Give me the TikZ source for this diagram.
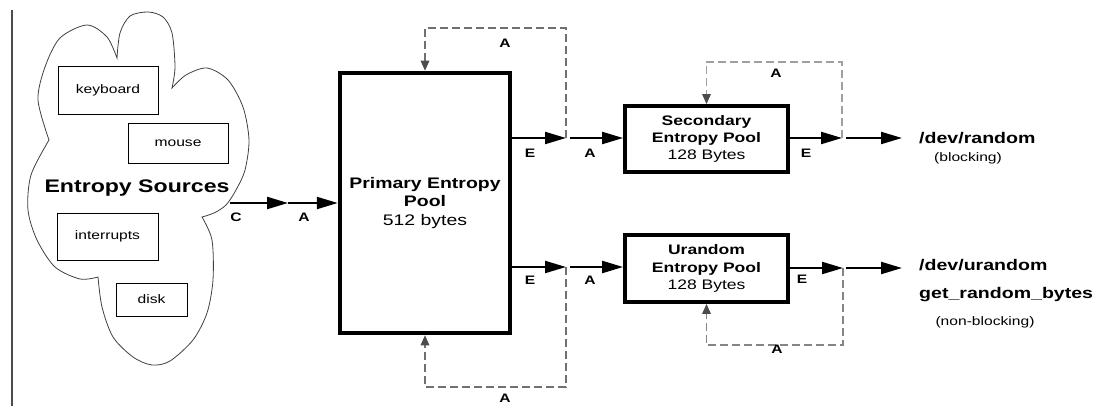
\documentclass[tikz,border=0pt]{standalone}
\usepackage{fontspec}
\setmainfont{Liberation Sans}[FakeStretch=1.27]
\usetikzlibrary{arrows.meta}
\definecolor{dgray}{HTML}{707070}
\definecolor{lgray}{HTML}{A0A0A0}
\definecolor{mgray}{HTML}{858585}
\tikzset{
  arr/.style={line width=2.2pt, -{Triangle[length=21pt,width=12pt]}},
  darr/.style={line width=1.5pt, dash pattern=on 8pt off 4pt, -{Triangle[length=10pt,width=8.5pt,color=black!70]}},
  lbl/.style={font=\bfseries\fontsize{12.3}{13}\selectfont, inner sep=0pt},
  srcbox/.style={draw, line width=0.9pt, inner sep=0pt, font=\fontsize{12.3}{14}\selectfont},
  poolbox/.style={draw, line width=4.5pt, inner sep=0pt, align=center},
  outtxt/.style={inner sep=0pt, font=\bfseries\fontsize{15.4}{18}\selectfont},
  subtxt/.style={inner sep=0pt, font=\fontsize{12.3}{14}\selectfont},
  cloudline/.style={draw=black!75, line width=0.8pt},
}
\begin{document}
\begin{tikzpicture}[x=1pt,y=-1pt]
\useasboundingbox (0,0) rectangle (1102,406);
% left rule
\draw[black!70, line width=1.5pt] (12,10) -- (12,406);
% cloud
\draw[cloudline]
  plot[smooth] coordinates {(117,58) (120,33) (130,16) (148,12) (163,17) (172,33) (175,67) (172,88)}
  -- plot[smooth] coordinates {(172,88) (186,75) (207,68) (228,80) (243,107) (249,140) (245,170) (236,190) (226,205) (214,213) (202,217)}
  -- plot[smooth] coordinates {(202,217) (212,240) (213,280) (207,313) (193,340) (170,361) (152,365) (133,357) (113,337) (102,307) (98,277)}
  -- plot[smooth] coordinates {(98,277) (80,279) (55,267) (37,240) (28,210) (31,175) (49,140)}
  -- plot[smooth] coordinates {(49,140) (38,100) (45,67) (60,38) (87,25) (107,37) (117,58)}
  -- cycle;
\node[srcbox, minimum width=100pt, minimum height=48pt] (kb) at (108,90) {keyboard};
\node[srcbox, minimum width=100pt, minimum height=40pt] (ms) at (178,143) {mouse};
\node[srcbox, minimum width=101pt, minimum height=47pt] (ir) at (107.5,236.5) {interrupts};
\node[srcbox, minimum width=71pt, minimum height=33pt] (dk) at (151.5,299.5) {disk};
\node[inner sep=0pt, font=\bfseries\fontsize{18.2}{20}\selectfont] (es) at (137,188) {Entropy Sources};
% pools
\node[poolbox, minimum width=170pt, minimum height=260pt, font=\bfseries\fontsize{15.3}{18.5}\selectfont] (prim) at (425,203)
  {Primary Entropy\\Pool\\\mdseries 512 bytes};
\node[poolbox, line width=3.8pt, minimum width=163pt, minimum height=66pt, font=\bfseries\fontsize{13.8}{17}\selectfont] (sec) at (706.5,139)
  {Secondary\\Entropy Pool\\\mdseries 128 Bytes};
\node[poolbox, line width=3.8pt, minimum width=163pt, minimum height=67pt, font=\bfseries\fontsize{13.8}{17.5}\selectfont] (ur) at (706.5,268.5)
  {Urandom\\Entropy Pool\\\mdseries 128 Bytes};
% input arrows
\coordinate (c1) at (230,203);
\coordinate (c2) at (288,203);
\draw[arr] (c1) -- (c2);
\draw[arr] (c2) -- (prim.west |- c2);
\node[lbl] (lC) at (236,217) {C};
\node[lbl] (lA0) at (304,217) {A};
% primary upper output
\coordinate (ju) at (566,138);
\coordinate (ju2) at (570,138);
\draw[arr] (prim.east |- ju) -- (ju);
\draw[arr] (ju2) -- (sec.west |- ju2);
\draw[darr, dgray] (ju) -- ++(0,-110) -| (prim.north);
\node[lbl] (lE1) at (530,153) {E};
\node[lbl] (lA1) at (590,153) {A};
\node[lbl] (lA2) at (505,43) {A};
% primary lower output
\coordinate (jl) at (566,267);
\coordinate (jl2) at (570,267);
\draw[arr] (prim.east |- jl) -- (jl);
\draw[arr] (jl2) -- (ur.west |- jl2);
\draw[darr, dgray] (jl) -- ++(0,120) -| (prim.south);
\node[lbl] (lE2) at (530,280) {E};
\node[lbl] (lA3) at (590,280) {A};
\node[lbl] (lA4) at (505,398) {A};
% secondary output
\coordinate (js) at (842,138);
\coordinate (js2) at (846,138);
\coordinate (js3) at (902,138);
\draw[arr] (sec.east |- js) -- (js);
\draw[arr] (js2) -- (js3);
\draw[darr, lgray] (js) -- ++(0,-76) -| (sec.north);
\node[lbl] (lE3) at (806,153) {E};
\node[lbl] (lA5) at (776,73) {A};
\node[outtxt, anchor=base west] (dr) at (919,144) {/dev/random};
\node[subtxt, anchor=base] (bl) at (968,162) {(blocking)};
% urandom output
\coordinate (jr) at (843,268);
\coordinate (jr2) at (846,268);
\coordinate (jr3) at (902,268);
\draw[arr] (ur.east |- jr) -- (jr);
\draw[arr] (jr2) -- (jr3);
\draw[darr, mgray] (jr) -- ++(0,77) -| (ur.south);
\node[lbl] (lE4) at (802,279) {E};
\node[lbl] (lA6) at (777,349) {A};
\node[outtxt, anchor=base west] (du) at (919,270) {/dev/urandom};
\node[outtxt, anchor=base west] (gr) at (919,298) {get\_random\_bytes};
\node[subtxt, anchor=base] (nb) at (985,325) {(non-blocking)};
\end{tikzpicture}
\end{document}
